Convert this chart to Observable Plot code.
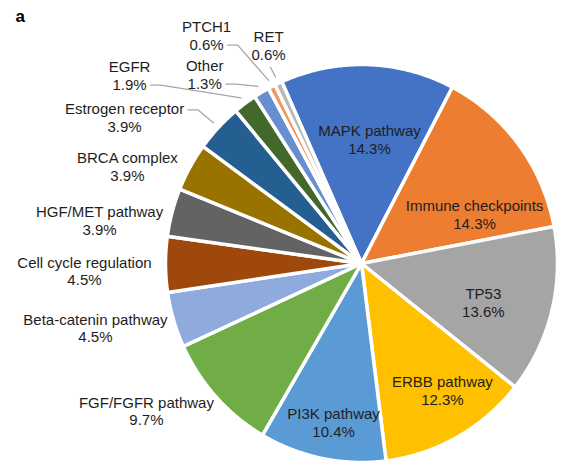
<!DOCTYPE html>
<html><head><meta charset="utf-8">
<script src="https://cdn.jsdelivr.net/npm/d3@7"></script>
<script src="https://cdn.jsdelivr.net/npm/@observablehq/plot@0.6"></script>
<style>body{margin:0;background:#fff}</style>
</head><body><div id="chart"></div>
<script>
// ---- data ----
const categories = ["MAPK pathway","Immune checkpoints","TP53","ERBB pathway","PI3K pathway","FGF/FGFR pathway","Beta-catenin pathway","Cell cycle regulation","HGF/MET pathway","BRCA complex","Estrogen receptor","EGFR","Other","PTCH1","RET"];
const shares = [14.3,14.3,13.6,12.3,10.4,9.7,4.5,4.5,3.9,3.9,3.9,1.9,1.3,0.6,0.6];
const shareLabels = ["14.3%","14.3%","13.6%","12.3%","10.4%","9.7%","4.5%","4.5%","3.9%","3.9%","3.9%","1.9%","1.3%","0.6%","0.6%"];
const sliceColors = ["#4472C4","#ED7D31","#A5A5A5","#FFC000","#5B9BD5","#70AD47","#8FAADC","#9E480E","#636363","#997300","#255E91","#43682B","#698ED0","#F1975A","#B7B7B7"];
const panelLabel = "a";

// ---- layout ----
const startAngleDeg = -24;
const labelAngles = [3.75,66.9,107.5,147.1,190.1,235.9,256.5,268.4,279.2,292.2,301.25,308.6,319.9,325.4,336.6];
const labelRadii  = [0.624,0.627,0.652,0.760,0.812,1.325,1.396,1.414,1.354,1.290,1.414,1.514,1.242,1.392,1.194];
const leaderAttach = {"Estrogen receptor":0,"EGFR":1,"Other":1,"PTCH1":1,"RET":"below"};

const W = 585, H = 469, CX = 361, CY = 263, RX = 196, RY = 199;
const pxX = 1 / RX, pxY = 1 / RY;
const FS = 15, LH = 1.15;
const deg = Math.PI / 180;

const arcs = d3.pie().sort(null).value(d => d)
  .startAngle(startAngleDeg * deg).endAngle(startAngleDeg * deg + 2 * Math.PI)(shares);

const slicePts = [];
arcs.forEach((a, i) => {
  const n = Math.max(2, Math.ceil((a.endAngle - a.startAngle) / (0.5 * deg)));
  slicePts.push({name: categories[i], color: sliceColors[i], x: 0, y: 0});
  for (let k = 0; k <= n; k++) {
    const t = a.startAngle + (a.endAngle - a.startAngle) * k / n;
    slicePts.push({name: categories[i], color: sliceColors[i], x: Math.sin(t), y: Math.cos(t)});
  }
  slicePts.push({name: categories[i], color: sliceColors[i], x: 0, y: 0});
});

const labels = categories.map((c, i) => {
  const t = labelAngles[i] * deg, r = labelRadii[i];
  return {name: c, text: c + "\n" + shareLabels[i], x: r * Math.sin(t), y: r * Math.cos(t)};
});

const ctx = document.createElement("canvas").getContext("2d");
ctx.font = FS + "px 'Liberation Sans'";
const leaderPts = [];
categories.forEach((c, i) => {
  if (!(c in leaderAttach)) return;
  const L = labels[i], att = leaderAttach[c];
  const mid = (arcs[i].startAngle + arcs[i].endAngle) / 2;
  const end = {x: 1.035 * Math.sin(mid), y: 1.035 * Math.cos(mid)};
  const lh = FS * LH * pxY;
  if (att === "below") {
    leaderPts.push({name: c, x: L.x + 2 * pxX, y: L.y - 22 * pxY});
  } else {
    const lineText = att === 0 ? c : shareLabels[i];
    const w = ctx.measureText(lineText).width * pxX;
    const ly = (att === 0 ? L.y + lh / 2 : L.y - lh / 2) - 1 * pxY;
    const sx = L.x + w / 2 + 4 * pxX;
    leaderPts.push({name: c, x: sx, y: ly});
    leaderPts.push({name: c, x: sx + 10 * pxX, y: ly});
  }
  leaderPts.push({name: c, x: end.x, y: end.y});
});

const chart = Plot.plot({
  width: W, height: H, margin: 0,
  x: {domain: [-CX * pxX, (W - CX) * pxX], axis: null},
  y: {domain: [-(H - CY) * pxY, CY * pxY], axis: null},
  color: {type: "identity"},
  style: {fontFamily: "'Liberation Sans', Arial, sans-serif", background: "#fff"},
  marks: [
    Plot.line(slicePts, {x: "x", y: "y", z: "name", fill: "color", stroke: "#fff", strokeWidth: 3.5, strokeLinejoin: "round"}),
    Plot.line(leaderPts, {x: "x", y: "y", z: "name", stroke: "#a6a6a6", strokeWidth: 1.3}),
    Plot.text(labels, {x: "x", y: "y", text: "text", fontSize: FS, lineHeight: LH, fill: "#1e1e1e"}),
    Plot.text([panelLabel], {frameAnchor: "top-left", text: d => d, dx: 15, dy: 9, lineAnchor: "top", textAnchor: "start", fontSize: 17, fontWeight: "bold", fill: "#000"})
  ]
});
document.getElementById("chart").appendChild(chart);
</script>
</body></html>
